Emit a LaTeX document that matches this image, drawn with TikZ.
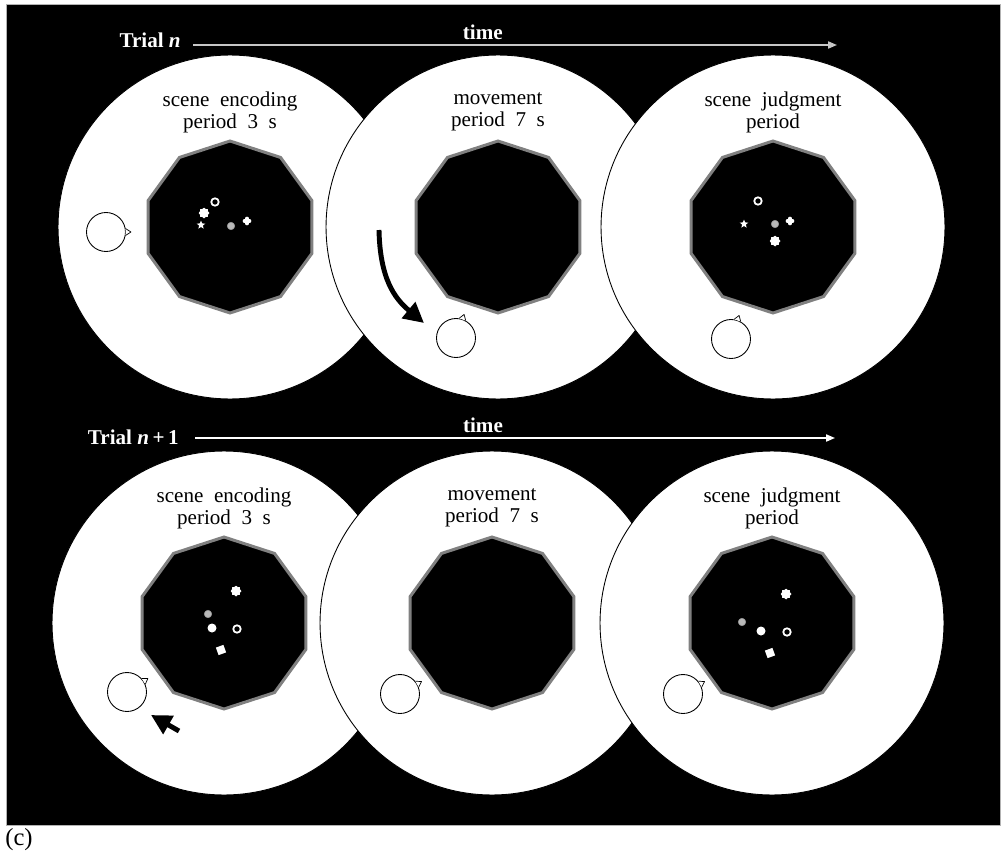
\documentclass[tikz,border=0pt]{standalone}
\usepackage{fontspec}
\setmainfont{Liberation Serif}
\usetikzlibrary{arrows.meta,calc,positioning,shapes.geometric,shapes.misc}
\tikzset{
  arena/.style={
    shape = circle,
    draw,
    fill = white,
    line width = 0.5pt,
    minimum size = 6.88cm,
    inner sep = 0pt
  },
  pool/.style={
    shape = regular polygon,
    regular polygon sides = 10,
    regular polygon rotate = 18,
    draw = gray,
    line width = 1.7pt,
    fill = black,
    minimum size = 3.44cm,
    inner sep = 0pt
  },
  avatar/.style={
    shape = circle,
    draw,
    fill = white,
    line width = 0.5pt,
    minimum size = 0.78cm,
    inner sep = 0pt
  },
  notch/.style={
    draw,
    fill = white,
    line width = 0.4pt,
    line join = round
  },
}
\tikzset{
  ring mark/.style={shape=circle, draw=white, line width=1pt, minimum size=0.15cm, inner sep=0pt},
  disc mark/.style={shape=circle, fill=white, minimum size=0.18cm, inner sep=0pt},
  gem mark/.style={shape=rectangle, fill=white, minimum size=0.16cm, inner sep=0pt, rotate=20},
  star mark/.style={shape=star, star points=5, star point ratio=2.3, fill=white, minimum size=0.18cm, inner sep=0pt},
  blob mark/.style={shape=star, star points=8, star point ratio=1.3, fill=white, draw=white, line join=round, minimum size=0.2cm, inner sep=0pt},
  plus mark/.style={shape=cross out, draw=white, line width=1.9pt, line cap=round, rotate=45, minimum size=0.075cm, inner sep=0pt, outer sep=0pt},
  dot mark/.style={shape=circle, fill=gray!55, draw=gray!80, line width=0.3pt, minimum size=0.15cm, inner sep=0pt},
}
\tikzset{
  period/.style={
    align = center,
    font = \fontsize{12}{12.5}\selectfont,
    inner sep = 0pt
  },
  trial/.style={
    text = white,
    font = \fontsize{12}{12.5}\selectfont\bfseries,
    anchor = base east,
    inner sep = 0pt
  },
  timeline/.style={
    -{Triangle[length=5pt,width=4pt]},
    line width = 0.85pt
  },
  clock/.style={
    text = white,
    font = \fontsize{12}{12.5}\selectfont\bfseries,
    above = 2.5pt,
    inner sep = 0pt
  },
  push/.style={
    -{Triangle[length=11.5pt,width=11.5pt]},
    line width = 2.8pt
  },
}
\begin{document}
\begin{tikzpicture}[x=0.02cm, y=-0.02cm]
  \useasboundingbox (0,0) rectangle (1005,862);
  \fill[white] (0,0) rectangle (1005,862);
  \fill[black, draw=gray!60] (6,4) rectangle (1000,825);
  % arenas, left to right so that each one lies over the previous one
  \foreach \p/\cx/\cy/\txt in {
      enc1/230/227/{scene\enspace encoding\\period\enspace 3\enspace s},
      mov1/498/227/{movement\\period\enspace 7\enspace s},
      jud1/773/227/{scene\enspace judgment\\period},
      enc2/224/623/{scene\enspace encoding\\period\enspace 3\enspace s},
      mov2/492/623/{movement\\period\enspace 7\enspace s},
      jud2/772/623/{scene\enspace judgment\\period}}{
    \node[arena] (\p) at (\cx,\cy) {};
    \node[pool] (\p-pool) at (\cx,\cy) {};
    \node[period] (\p-title) at (\cx,\cy-115) {\txt};
  }
  % time axes
  \node[trial] (trial1) at (181,48) {Trial \textit{n}};
  \node[trial] (trial2) at (179,444) {Trial \textit{n}\,+\,1};
  \coordinate (time1a) at (193,45);
  \coordinate (time1b) at (837,45);
  \coordinate (time2a) at (195,438);
  \coordinate (time2b) at (835,438);
  \draw[timeline, gray!45] (time1a) -- node[clock, pos=0.45] (time1) {time} (time1b);
  \draw[timeline, white] (time2a) -- node[clock, pos=0.45] (time2) {time} (time2b);
  % objects of the scenes
  \foreach \p/\g/\gx/\gy in {
      enc1/ring/215/202, enc1/blob/204/213, enc1/star/201/225, enc1/dot/231/226, enc1/plus/247/221,
      jud1/ring/758/201, jud1/star/744/224, jud1/dot/775/224, jud1/plus/790/221, jud1/blob/775/241,
      enc2/blob/236/591, enc2/dot/208/614, enc2/disc/212/628, enc2/ring/237/629, enc2/gem/221/650,
      jud2/blob/786/594, jud2/dot/742/622, jud2/disc/761/631, jud2/ring/787/632, jud2/gem/770/653}
    \node[\g\space mark] (\p-\g) at (\gx,\gy) {};
  % observer, with a notch for the heading
  \foreach \p/\ax/\ay/\hd [evaluate=\hd as \hl using int(\hd-10),
                           evaluate=\hd as \hr using int(\hd+10)] in {
      enc1/106/232/360, mov1/456/338/71, jud1/731/339/71,
      enc2/127/692/33, mov2/400/694/30, jud2/683/694/30}{
    \node[avatar] (\p-self) at (\ax,\ay) {};
    \draw[notch] (\p-self.\hl) -- ($(\p-self.center)!1.25!(\p-self.\hd)$) -- (\p-self.\hr);
  }
  % movements
  \coordinate (turn1a) at (379,230);
  \coordinate (turn1b) at (424,323);
  \draw[push] (turn1a) .. controls (380,278) and (394,298) .. (turn1b);
  \coordinate (turn2a) at (179,731);
  \coordinate (turn2b) at (151,715);
  \draw[push] (turn2a) -- (turn2b);
  \node[anchor=base west, font=\fontsize{14}{15}\selectfont, inner sep=0pt] (panel) at (5,845) {(c)};
\end{tikzpicture}
\end{document}
